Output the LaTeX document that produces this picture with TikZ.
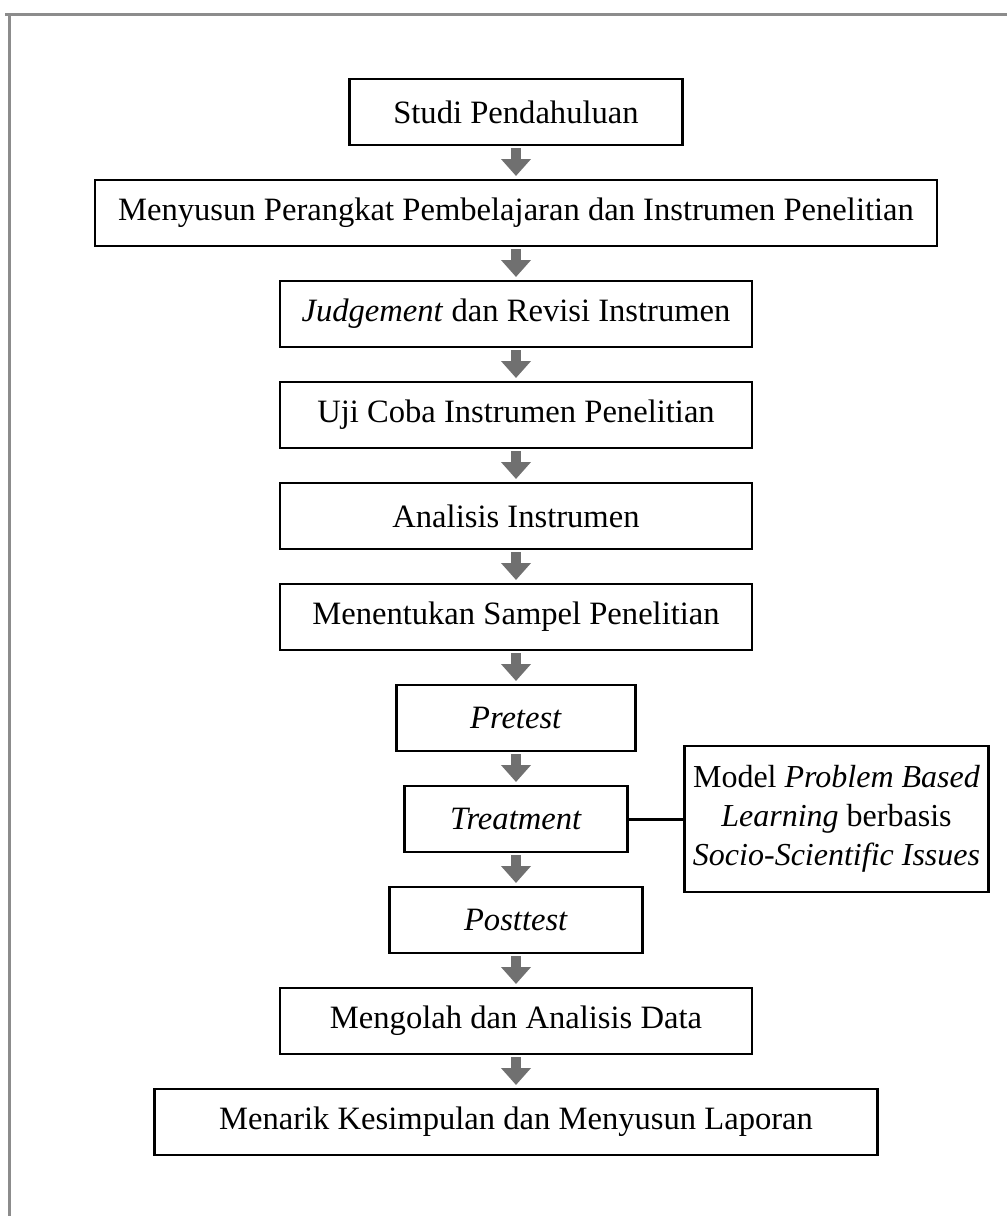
\documentclass[tikz,border=0pt]{standalone}
\usepackage{fontspec}
\setmainfont{Liberation Serif}
\usetikzlibrary{arrows.meta,positioning}
\definecolor{arrowgray}{RGB}{112,112,112}
\definecolor{framegray}{RGB}{140,140,140}

\begin{document}
\begin{tikzpicture}[x=0.5pt,y=-0.5pt,node distance=17.5pt,every node/.style={draw,line width=1.4pt,outer sep=0pt,minimum height=33pt,align=center,inner sep=2pt,font=\fontsize{16.3}{19.5}\selectfont},stepflow/.style={draw=arrowgray,line width=5pt,-{Triangle[width=14.5pt,length=8.5pt]},shorten <=1.5pt,shorten >=2pt}]
      \useasboundingbox (0,0) rectangle (1007,1216);
      \draw[framegray,line width=1.5pt] (5,14) -- (1007,14);
      \draw[framegray,line width=1.5pt] (9,14) -- (9,1216);
      \node[minimum width=166.5pt] (studi) at (516,112) {Studi Pendahuluan};
      \node[below=of studi,minimum width=421pt] (susun) {Menyusun Perangkat Pembelajaran dan Instrumen Penelitian};
      \node[below=of susun,minimum width=236pt] (judge) {\textit{Judgement} dan Revisi Instrumen};
      \node[below=of judge,minimum width=236pt] (uji) {Uji Coba Instrumen Penelitian};
      \node[below=of uji,minimum width=236pt] (anal) {Analisis Instrumen};
      \node[below=of anal,minimum width=236pt] (sampel) {Menentukan Sampel Penelitian};
      \node[below=of sampel,minimum width=119.5pt] (pre) {\textit{Pretest}};
      \node[below=of pre,minimum width=111.5pt] (treat) {\textit{Treatment}};
      \node[below=of treat,minimum width=126.5pt] (post) {\textit{Posttest}};
      \node[below=of post,minimum width=236pt] (olah) {Mengolah dan Analisis Data};
      \node[below=of olah,minimum width=361.5pt] (tarik) {Menarik Kesimpulan dan Menyusun Laporan};
      \node[right=28.5pt of treat,minimum width=152pt,minimum height=73pt,font=\fontsize{16}{19.5}\selectfont] (model) {Model \textit{Problem Based}\\ \textit{Learning} berbasis\\ \textit{Socio-Scientific Issues}};
      \draw[stepflow] (studi)--(susun);
      \draw[stepflow] (susun)--(judge);
      \draw[stepflow] (judge)--(uji);
      \draw[stepflow] (uji)--(anal);
      \draw[stepflow] (anal)--(sampel);
      \draw[stepflow] (sampel)--(pre);
      \draw[stepflow] (pre)--(treat);
      \draw[stepflow] (treat)--(post);
      \draw[stepflow] (post)--(olah);
      \draw[stepflow] (olah)--(tarik);
      \draw[line width=1.5pt] (treat)--(model);
    \end{tikzpicture}
\end{document}
